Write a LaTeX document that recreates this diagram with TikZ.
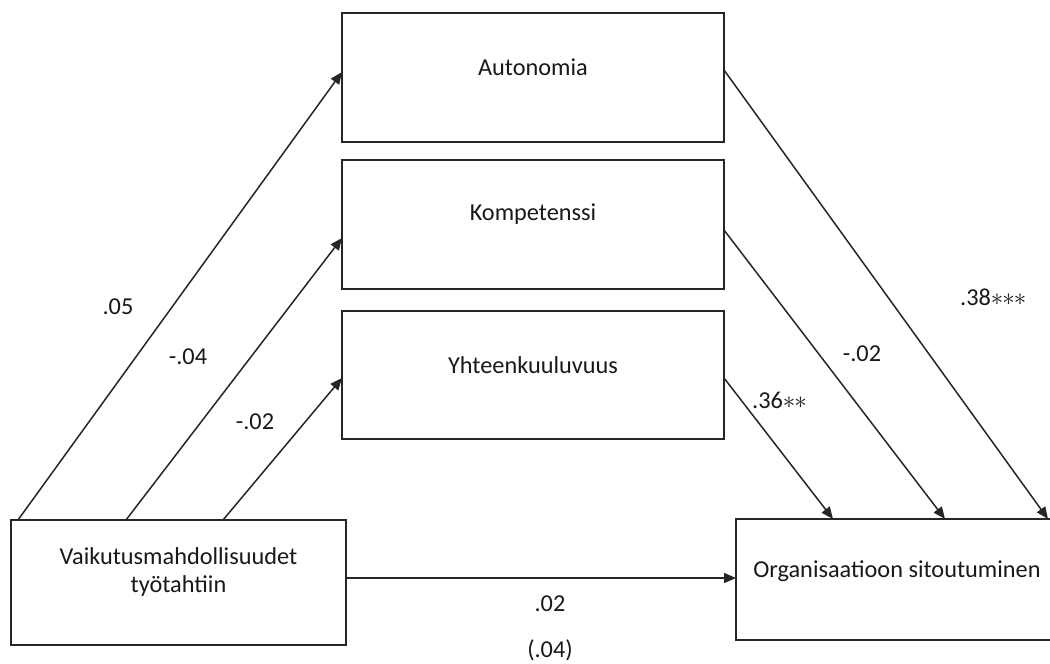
\documentclass[tikz,border=0pt]{standalone}
\usepackage{fontspec}
\setmainfont{Carlito}
\usetikzlibrary{arrows.meta}
\newcommand{\myast}{\ensuremath{\mathord{\ast}}\kern-1pt}
\begin{document}
\begin{tikzpicture}[x=1pt,y=-1pt,
  every node/.style={font=\fontsize{24.3}{29}\selectfont, text=black!90},
  boxnode/.style={draw=black!85, line width=1.8pt, inner sep=0pt, outer sep=0pt, fill=white},
  conn/.style={draw=black!85, line width=1.5pt},
  arr/.style={conn, -{Triangle[length=12pt,width=10pt]}},
  lbl/.style={inner sep=0pt}]
\useasboundingbox (0,0) rectangle (1050,664);
\clip (0,0) rectangle (1050,664);
\fill[white] (0,0) rectangle (1050,664);
% boxes
\node[boxnode, minimum width=382pt, minimum height=129pt] (auto) at (533,77.5) {};
\node[boxnode, minimum width=382pt, minimum height=129pt] (komp) at (533,224.5) {};
\node[boxnode, minimum width=382pt, minimum height=128pt] (yht) at (533,375) {};
\node[boxnode, minimum width=335pt, minimum height=125pt] (vai) at (178.5,582.5) {};
\node[boxnode, minimum width=322pt, minimum height=121pt] (org) at (897,579.5) {};
% box texts
\node[lbl] (autot) at ([yshift=10pt]auto.center) {Autonomia};
\node[lbl] (kompt) at ([yshift=10pt]komp.center) {Kompetenssi};
\node[lbl] (yhtt) at ([yshift=10pt]yht.center) {Yhteenkuuluvuus};
\node[lbl, align=center] (vait) at ([yshift=10pt]vai.center) {Vaikutusmahdollisuudet\\[-1pt]työtahtiin};
\node[lbl] (orgt) at ([yshift=8pt]org.center) {Organisaatioon sitoutuminen};
% connectors left
\draw[arr] ([xshift=7pt]vai.north west) -- ([yshift=5.5pt]auto.west);
\draw[arr] ([xshift=115pt]vai.north west) -- ([yshift=-13.5pt]komp.west);
\draw[arr] ([xshift=212pt]vai.north west) -- ([yshift=-3pt]yht.west);
% connectors right
\draw[arr] ([yshift=7.5pt]auto.east) -- ([xshift=312pt]org.north west);
\draw[arr] ([yshift=-5.5pt]komp.east) -- ([xshift=209pt]org.north west);
\draw[arr] ([yshift=-3pt]yht.east) -- ([xshift=97pt]org.north west);
% direct path
\draw[arr] ([yshift=4.5pt]vai.east) -- ([yshift=4.5pt]vai.east -| org.west);
% labels
\node[lbl] (l1) at (118,307) {.05};
\node[lbl] (l2) at (188,357) {-.04};
\node[lbl] (l3) at (255,422) {-.02};
\node[lbl, anchor=base west] (l4) at (752,408) {.36\myast\myast};
\node[lbl] (l5) at (862,354) {-.02};
\node[lbl, anchor=base west] (l6) at (960,305) {.38\myast\myast\myast};
\node[lbl] (l7) at (550,604) {.02};
\node[lbl] (l8) at (550,650) {(.04)};
\end{tikzpicture}
\end{document}
